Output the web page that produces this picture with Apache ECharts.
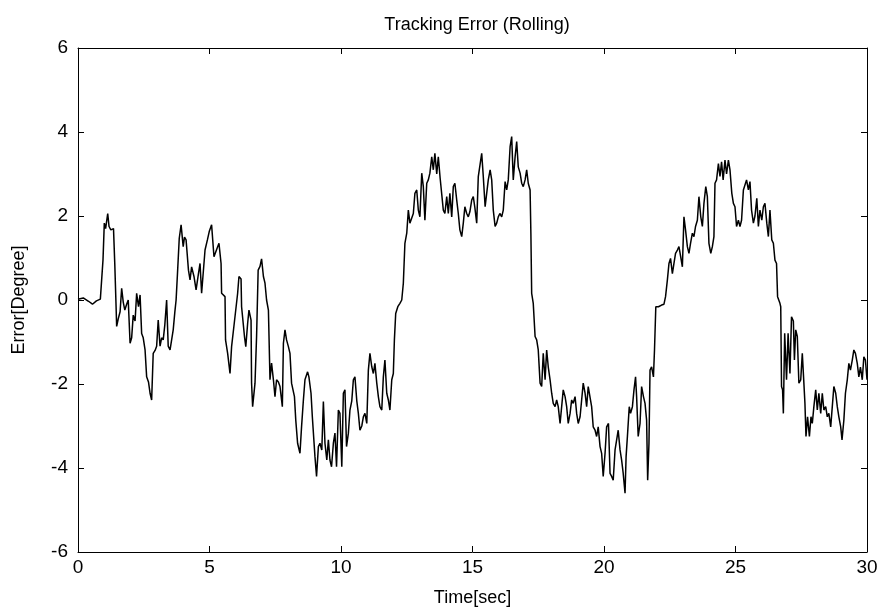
<!DOCTYPE html>
<html>
<head>
<meta charset="utf-8">
<script src="https://cdn.jsdelivr.net/npm/echarts@6/dist/echarts.min.js"></script>
<style>
  html, body { margin: 0; padding: 0; background: #fff; }
  #chart { width: 889px; height: 615px; }
</style>
</head>
<body>
<div id="chart"></div>
<script>
// time stamps [sec] and tracking error [deg]
var times = [
  0, 0.2, 0.4, 0.55, 0.7, 0.85, 0.9, 0.95, 1.0, 1.05, 1.13, 1.18, 1.25, 1.35, 1.4, 1.45, 1.47, 1.53, 1.6, 1.66,
  1.72, 1.78, 1.85, 1.91, 1.98, 2.04, 2.1, 2.17, 2.23, 2.3, 2.36, 2.42, 2.48, 2.55, 2.61, 2.68, 2.74, 2.8, 2.86, 2.93,
  2.99, 3.05, 3.12, 3.18, 3.24, 3.3, 3.37, 3.43, 3.5, 3.56, 3.62, 3.68, 3.73, 3.78, 3.85, 3.92, 4.0, 4.05, 4.11, 4.2,
  4.26, 4.32, 4.41, 4.49, 4.58, 4.64, 4.7, 4.77, 4.83, 4.92, 4.99, 5.08, 5.17, 5.21, 5.31, 5.36, 5.44, 5.46, 5.53, 5.59,
  5.61, 5.69, 5.78, 5.84, 5.94, 6.0, 6.07, 6.12, 6.2, 6.22, 6.33, 6.38, 6.45, 6.5, 6.58, 6.6, 6.64, 6.73, 6.79, 6.85,
  6.92, 6.98, 7.05, 7.11, 7.17, 7.24, 7.3, 7.36, 7.43, 7.49, 7.55, 7.62, 7.68, 7.77, 7.81, 7.87, 7.93, 8.0, 8.06, 8.12,
  8.23, 8.28, 8.35, 8.44, 8.5, 8.57, 8.63, 8.73, 8.78, 8.86, 8.91, 9.01, 9.07, 9.14, 9.2, 9.27, 9.33, 9.39, 9.46, 9.52,
  9.58, 9.64, 9.71, 9.77, 9.83, 9.9, 9.96, 10.03, 10.09, 10.15, 10.21, 10.28, 10.34, 10.41, 10.47, 10.53, 10.6, 10.66, 10.72, 10.79,
  10.85, 10.91, 10.98, 11.04, 11.1, 11.17, 11.23, 11.29, 11.36, 11.42, 11.48, 11.55, 11.61, 11.67, 11.74, 11.8, 11.86, 11.93, 11.99, 12.03,
  12.08, 12.16, 12.24, 12.31, 12.37, 12.43, 12.5, 12.56, 12.62, 12.69, 12.75, 12.81, 12.88, 12.94, 13.0, 13.07, 13.13, 13.19, 13.26, 13.32,
  13.38, 13.45, 13.51, 13.57, 13.64, 13.7, 13.77, 13.83, 13.89, 13.95, 14.02, 14.08, 14.14, 14.21, 14.27, 14.33, 14.4, 14.46, 14.52, 14.59,
  14.65, 14.71, 14.78, 14.84, 14.9, 14.97, 15.03, 15.09, 15.16, 15.22, 15.28, 15.35, 15.41, 15.48, 15.54, 15.6, 15.67, 15.73, 15.79, 15.86,
  15.92, 15.98, 16.04, 16.11, 16.17, 16.24, 16.3, 16.36, 16.43, 16.49, 16.55, 16.62, 16.68, 16.74, 16.81, 16.87, 16.93, 17.0, 17.06, 17.12,
  17.19, 17.22, 17.25, 17.31, 17.38, 17.44, 17.5, 17.57, 17.63, 17.69, 17.76, 17.82, 17.88, 17.95, 18.01, 18.07, 18.14, 18.2, 18.26, 18.33,
  18.39, 18.45, 18.52, 18.58, 18.64, 18.71, 18.77, 18.83, 18.9, 18.96, 19.02, 19.09, 19.15, 19.21, 19.28, 19.34, 19.4, 19.47, 19.53, 19.59,
  19.66, 19.72, 19.78, 19.85, 19.91, 19.97, 20.04, 20.1, 20.17, 20.23, 20.29, 20.35, 20.42, 20.48, 20.54, 20.61, 20.67, 20.73, 20.8, 20.84,
  20.89, 20.96, 21.01, 21.08, 21.14, 21.2, 21.24, 21.3, 21.37, 21.43, 21.5, 21.56, 21.62, 21.66, 21.71, 21.75, 21.81, 21.88, 21.92, 21.97,
  22.07, 22.19, 22.28, 22.34, 22.41, 22.47, 22.53, 22.6, 22.66, 22.72, 22.79, 22.85, 22.91, 22.98, 23.04, 23.1, 23.17, 23.23, 23.29, 23.36,
  23.42, 23.48, 23.55, 23.61, 23.68, 23.74, 23.8, 23.87, 23.93, 23.99, 24.06, 24.12, 24.18, 24.22, 24.28, 24.35, 24.41, 24.47, 24.53, 24.6,
  24.66, 24.73, 24.79, 24.86, 24.92, 24.98, 25.04, 25.11, 25.17, 25.23, 25.3, 25.36, 25.42, 25.49, 25.55, 25.61, 25.68, 25.74, 25.81, 25.87,
  25.93, 26.0, 26.06, 26.12, 26.19, 26.25, 26.31, 26.38, 26.44, 26.5, 26.56, 26.6, 26.69, 26.72, 26.75, 26.79, 26.82, 26.87, 26.94, 27.0,
  27.07, 27.13, 27.2, 27.24, 27.29, 27.35, 27.41, 27.48, 27.54, 27.6, 27.64, 27.68, 27.74, 27.81, 27.87, 27.92, 27.98, 28.05, 28.11, 28.17,
  28.24, 28.3, 28.36, 28.43, 28.49, 28.55, 28.62, 28.68, 28.74, 28.81, 28.87, 28.93, 29.0, 29.05, 29.12, 29.18, 29.25, 29.31, 29.37, 29.44,
  29.5, 29.56, 29.63, 29.69, 29.75, 29.82, 29.88, 29.94, 30.0
];
var errors = [
  0.02, 0.05, -0.03, -0.1, -0.02, 0.02, 0.05, 0.95, 1.83, 1.7, 2.06, 1.75, 1.67, 1.7, 0.83, -0.2, -0.63, -0.45, -0.28, 0.28,
  -0.05, -0.24, -0.1, 0.0, -1.03, -0.9, -0.36, -0.5, 0.16, -0.16, 0.12, -0.8, -0.9, -1.19, -1.83, -1.95, -2.22, -2.38, -1.27, -1.2,
  -1.1, -0.48, -1.1, -0.9, -0.95, -0.6, 0.0, -1.1, -1.19, -0.95, -0.71, -0.3, 0.0, 0.6, 1.47, 1.79, 1.27, 1.5, 1.43, 0.71,
  0.48, 0.79, 0.56, 0.24, 0.63, 0.87, 0.16, 0.12, 1.19, 1.43, 1.63, 1.79, 1.03, 1.03, 1.27, 1.35, 0.87, 0.16, 0.2, 0.08,
  -0.95, -1.27, -1.75, -1.11, -0.56, -0.6, 0.16, 0.56, 0.5, -0.16, -0.87, -1.11, -0.56, -0.24, -0.48, -1.98, -2.54, -1.98, -0.87, 0.71,
  0.8, 0.98, 0.56, 0.4, 0.0, -0.24, -1.9, -1.5, -1.9, -2.3, -1.9, -1.95, -2.06, -2.54, -1.03, -0.71, -0.95, -1.11, -1.27, -1.98,
  -2.3, -2.86, -3.41, -3.65, -3.02, -2.38, -1.9, -1.71, -1.83, -2.22, -2.78, -3.73, -4.2, -3.49, -3.41, -3.57, -2.42, -3.41, -3.81, -3.33,
  -3.81, -3.97, -3.41, -3.17, -3.97, -2.62, -2.7, -3.97, -2.22, -2.14, -3.49, -3.17, -2.62, -2.4, -1.9, -1.83, -2.4, -2.7, -3.1, -3.0,
  -2.78, -2.7, -2.94, -1.67, -1.27, -1.59, -1.75, -1.51, -1.98, -2.3, -2.54, -2.62, -1.83, -1.43, -2.22, -2.38, -2.62, -1.9, -1.75, -0.95,
  -0.32, -0.16, -0.08, 0.0, 0.4, 1.35, 1.59, 2.14, 1.83, 1.83, 2.06, 2.54, 2.62, 2.14, 1.98, 3.02, 2.7, 1.9, 2.78, 2.86,
  3.02, 3.41, 3.1, 3.49, 3.0, 3.41, 2.9, 2.86, 2.14, 2.06, 2.46, 2.06, 2.54, 1.98, 2.7, 2.78, 2.38, 2.06, 1.67, 1.51,
  1.83, 2.22, 2.06, 1.98, 2.1, 2.38, 2.46, 2.2, 1.83, 2.94, 2.94, 3.49, 2.94, 2.22, 2.22, 2.86, 3.1, 2.86, 2.14, 1.75,
  1.83, 1.98, 2.06, 1.98, 2.14, 2.82, 2.62, 2.86, 3.65, 3.89, 2.86, 3.41, 3.77, 3.17, 3.02, 2.78, 2.7, 2.86, 3.1, 2.78,
  2.62, 1.59, 0.16, -0.08, -0.87, -0.95, -1.19, -1.98, -2.06, -1.27, -1.9, -1.19, -1.59, -1.9, -2.22, -2.46, -2.54, -2.38, -2.54, -2.94,
  -2.54, -2.14, -2.3, -2.54, -2.94, -2.7, -2.38, -2.46, -2.3, -2.7, -2.94, -2.78, -2.38, -1.98, -2.22, -2.54, -2.06, -2.06, -2.54, -3.02,
  -3.1, -3.25, -3.02, -3.49, -3.65, -4.2, -3.65, -3.02, -2.94, -4.13, -4.2, -4.29, -3.57, -3.6, -3.1, -3.57, -3.81, -4.13, -4.6, -3.73,
  -3.25, -2.54, -2.7, -2.54, -2.14, -1.83, -2.3, -3.25, -2.94, -2.06, -2.3, -2.46, -2.86, -4.29, -3.41, -1.67, -1.59, -1.83, -1.19, -0.16,
  -0.16, -0.12, -0.1, 0.08, 0.48, 0.87, 0.99, 0.63, 0.87, 1.11, 1.19, 1.27, 1.05, 0.79, 1.98, 1.67, 1.27, 1.11, 1.35, 1.59,
  1.51, 1.75, 1.9, 2.46, 1.98, 1.75, 2.3, 2.7, 2.46, 1.35, 1.11, 1.27, 1.51, 2.78, 2.86, 3.25, 2.94, 3.29, 2.86, 3.33,
  3.0, 3.33, 3.1, 2.54, 2.3, 2.22, 1.75, 1.9, 1.75, 1.9, 2.62, 2.65, 2.86, 2.62, 2.82, 2.14, 1.83, 2.0, 2.42, 1.75,
  2.14, 1.9, 2.22, 2.3, 1.83, 1.51, 2.14, 1.43, 1.35, 0.95, 0.87, 0.08, -0.08, -0.16, -2.06, -2.14, -2.7, -0.79, -1.9, -0.79,
  -1.75, -0.4, -0.5, -1.43, -0.71, -0.87, -1.98, -1.9, -1.27, -1.98, -2.46, -3.25, -2.78, -3.25, -2.78, -2.94, -2.54, -2.14, -2.62, -2.22,
  -2.7, -2.22, -2.62, -2.54, -2.78, -2.7, -3.02, -2.54, -2.06, -2.22, -2.54, -2.78, -3.02, -3.33, -2.86, -2.22, -1.9, -1.51, -1.67, -1.43,
  -1.19, -1.27, -1.51, -1.83, -1.6, -1.9, -1.35, -1.43, -1.9
];
var xTicks = [0, 5, 10, 15, 20, 25, 30];
var yTicks = [-6, -4, -2, 0, 2, 4, 6];

var seriesData = [];
for (var i = 0; i < times.length; i++) {
    seriesData.push([times[i], errors[i]]);
}

var font = 'Liberation Sans, Arial, sans-serif';
var axisLineStyle = {onZero: false, lineStyle: {color: '#000', width: 1}};
var tickStyle = {inside: true, length: 6, lineStyle: {color: '#000'}};

var myChart = echarts.init(document.getElementById('chart'));
var option = {
    backgroundColor: '#fff',
    animation: false,
    title: {
        text: 'Tracking Error (Rolling)',
        left: 472,
        top: 11,
        textAlign: 'center',
        textStyle: {fontFamily: font, fontSize: 18, fontWeight: 'normal', color: '#000'}
    },
    grid: {left: 78, right: 22, top: 48, bottom: 63},
    xAxis: [{
        type: 'value',
        min: xTicks[0], max: xTicks[xTicks.length - 1], interval: 5,
        name: 'Time[sec]',
        nameLocation: 'middle',
        nameGap: 37,
        nameTextStyle: {fontFamily: font, fontSize: 18, color: '#000'},
        axisLine: axisLineStyle,
        axisTick: tickStyle,
        axisLabel: {fontFamily: font, fontSize: 19, color: '#000', margin: 6},
        splitLine: {show: false}
    }, {
        type: 'value', position: 'top',
        min: xTicks[0], max: xTicks[xTicks.length - 1], interval: 5,
        axisLine: axisLineStyle,
        axisTick: tickStyle,
        axisLabel: {show: false},
        splitLine: {show: false}
    }],
    yAxis: [{
        type: 'value',
        min: yTicks[0], max: yTicks[yTicks.length - 1], interval: 2,
        name: 'Error[Degree]',
        nameLocation: 'middle',
        nameGap: 50,
        nameTextStyle: {fontFamily: font, fontSize: 18, color: '#000'},
        axisLine: axisLineStyle,
        axisTick: tickStyle,
        axisLabel: {fontFamily: font, fontSize: 19, color: '#000', margin: 10},
        splitLine: {show: false}
    }, {
        type: 'value', position: 'right',
        min: yTicks[0], max: yTicks[yTicks.length - 1], interval: 2,
        axisLine: axisLineStyle,
        axisTick: tickStyle,
        axisLabel: {show: false},
        splitLine: {show: false}
    }],
    series: [{
        type: 'line',
        data: seriesData,
        showSymbol: false,
        lineStyle: {color: '#000', width: 1.5},
        xAxisIndex: 0,
        yAxisIndex: 0
    }]
};
myChart.setOption(option);
</script>
</body>
</html>
